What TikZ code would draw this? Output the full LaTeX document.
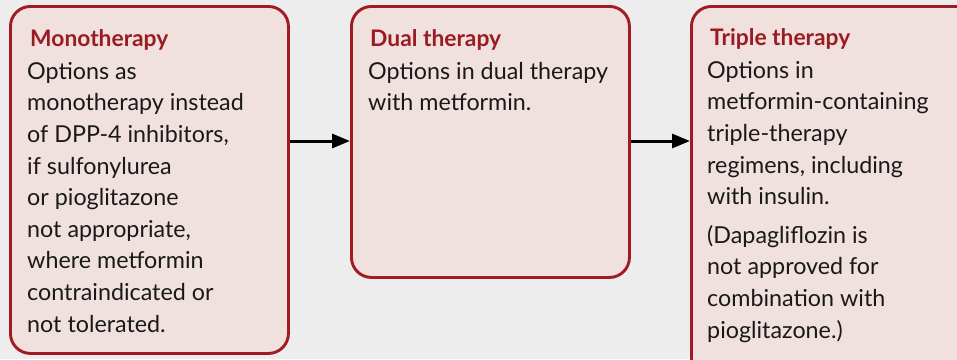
\documentclass[tikz,border=0pt]{standalone}
\usepackage{fontspec}
\setmainfont{Lato}
\usetikzlibrary{arrows.meta}
\definecolor{bgc}{HTML}{EDEDED}
\definecolor{boxfill}{HTML}{F1E1DE}
\definecolor{boxdraw}{HTML}{A01C22}
\definecolor{titlered}{HTML}{9A1B22}
\tikzset{
  box/.style={draw=boxdraw, fill=boxfill, line width=2.9pt, rounded corners=20pt, anchor=north west, inner sep=0pt},
  ttl/.style={anchor=base west, inner sep=0pt, text=titlered, font=\fontsize{22.8}{27}\selectfont\bfseries},
  body/.style={anchor=north west, inner sep=0pt, align=left, text=black!90, font=\fontsize{23.3}{31.6}\selectfont},
  conn/.style={line width=3pt, -{Triangle[length=18pt,width=14pt]}}
}
\begin{document}
\begin{tikzpicture}[x=1pt,y=-1pt]
\fill[bgc] (0,0) rectangle (957,359);
\useasboundingbox (0,0) rectangle (957,359);
\node[box, minimum width=278pt, minimum height=347pt] (b1) at (9,5) {};
\node[box, minimum width=278pt, minimum height=271pt] (b2) at (350,5) {};
\begin{scope}
\clip (0,0) rectangle (957,359);
\node[box, minimum width=300pt, minimum height=380pt] (b3) at (690,5) {};
\end{scope}
\node[ttl] (t1) at (30,46) {Monotherapy};
\node[ttl] (t2) at (370,46) {Dual therapy};
\node[ttl] (t3) at (710,45) {Triple therapy};
\node[body] (x1) at (27,79-22) {\strut Options as\\monotherapy instead\\of DPP-4 inhibitors,\\if sulfonylurea\\or pioglitazone\\not appropriate,\\where metformin\\contraindicated or\\not tolerated.};
\node[body] (x2) at (368,79-22) {\strut Options in dual therapy\\with metformin.};
\node[body] (x3) at (707,78-22) {\strut Options in\\metformin-containing\\triple-therapy\\regimens, including\\with insulin.};
\node[body] (x4) at (707,243-22) {\strut (Dapagliflozin is\\not approved for\\combination with\\pioglitazone.)};
\coordinate (a1s) at (b1.east |- 0,141);
\coordinate (a1e) at (b2.west |- 0,141);
\coordinate (a2s) at (b2.east |- 0,141);
\coordinate (a2e) at (b3.west |- 0,141);
\draw[conn] (a1s) -- (a1e);
\draw[conn] (a2s) -- (a2e);
\end{tikzpicture}
\end{document}
